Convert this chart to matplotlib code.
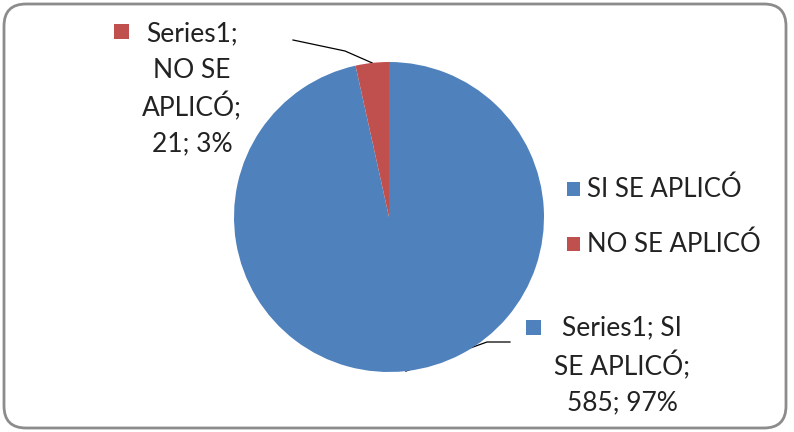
import numpy as np
import matplotlib
matplotlib.use("Agg")
import matplotlib.pyplot as plt
from matplotlib.patches import FancyBboxPatch, Rectangle

# data
categories = ["SI SE APLICÓ", "NO SE APLICÓ"]
values = [585, 21]
series_name = "Series1"
colors = ["#4F81BD", "#C0504D"]

W, H = 794, 432
FONT = ["Lato", "DejaVu Sans"]

fig = plt.figure(figsize=(W / 100, H / 100), dpi=100)

# overlay in pixel coords (y down)
ov = fig.add_axes([0, 0, 1, 1])
ov.set_xlim(0, W)
ov.set_ylim(H, 0)
ov.axis("off")

ov.add_patch(FancyBboxPatch((4, 4), 782, 424, boxstyle="round,pad=0,rounding_size=22",
                            fc="white", ec="#8c8c8c", lw=2, zorder=0))

# pie
cx, cy, r = 389, 217, 155
ax = fig.add_axes([(cx - r) / W, (H - cy - r) / H, 2 * r / W, 2 * r / H])
wedges, _ = ax.pie(values, colors=colors, startangle=90, counterclock=False,
                   wedgeprops=dict(linewidth=0))
ax.set_xlim(-1, 1)
ax.set_ylim(-1, 1)
ax.axis("off")

total = sum(values)
pct = [round(v / total * 100) for v in values]


def edge_point(w):
    ang = np.deg2rad((w.theta1 + w.theta2) / 2)
    return cx + r * np.cos(ang), cy - r * np.sin(ang)


# label for NO SE APLICÓ
ex, ey = edge_point(wedges[1])
ov.plot([293, 345, ex], [40, 51, ey], color="black", lw=0.9, zorder=5)
ov.add_patch(Rectangle((114, 24), 15, 15, fc=colors[1], ec="none"))
lines_no = [f"{series_name};", "NO SE", "APLICÓ;", f"{values[1]}; {pct[1]}%"]
for i, t in enumerate(lines_no):
    ov.text(192, 34 + i * 36.5, t, ha="center", va="center", fontsize=19,
            family=FONT, color="#222222")

# label for SI SE APLICÓ
ex, ey = edge_point(wedges[0])
ov.plot([ex, 487, 510], [ey, 342, 342], color="black", lw=0.9, zorder=5)
ov.add_patch(Rectangle((526, 320), 15, 15, fc=colors[0], ec="none"))
lines_si = [f"{series_name}; SI", "SE APLICÓ;", f"{values[0]}; {pct[0]}%"]
for i, t in enumerate(lines_si):
    ov.text(622, 328 + i * 37.5, t, ha="center", va="center", fontsize=19,
            family=FONT, color="#222222")

# legend
for i, (c, name) in enumerate(zip(categories, colors)):
    y = 189 + i * 55
    ov.add_patch(Rectangle((567, y - 7), 13, 14, fc=name, ec="none"))
    ov.text(587, y, c, ha="left", va="center", fontsize=18.5, family=FONT,
            color="#222222")

fig.savefig("out.png", dpi=100)
